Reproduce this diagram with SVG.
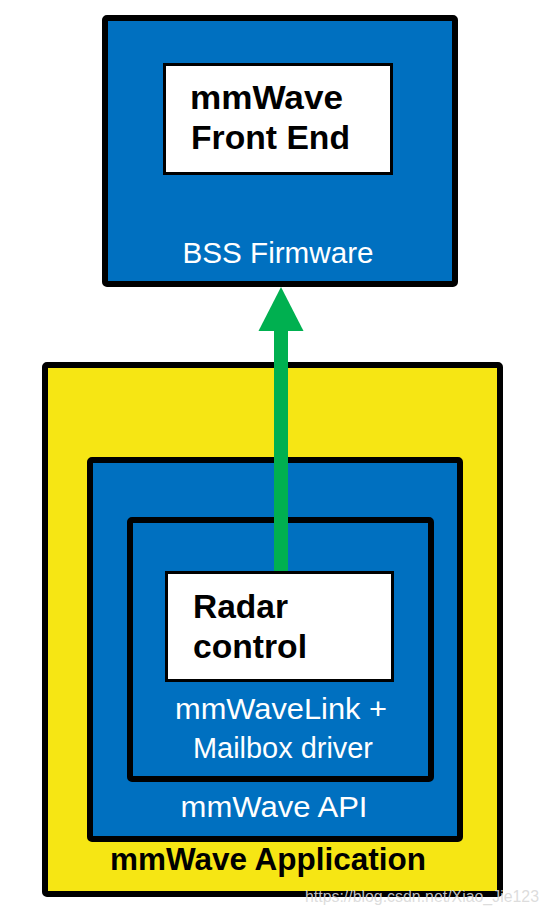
<svg xmlns="http://www.w3.org/2000/svg" width="549" height="917" viewBox="0 0 549 917">
  <defs>
    <style>
      .box { stroke: #000; stroke-width: 6; }
      .blue { fill: #0070C0; }
      .yellow { fill: #F6E614; }
      .white { fill: #FFFFFF; stroke: #000; stroke-width: 3; }
      .lbl { font-family: "Liberation Sans", Arial, sans-serif; }
      .bold { font-weight: bold; font-size: 34px; fill: #000; }
      .wt { font-size: 29.5px; fill: #FFFFFF; text-anchor: middle; }
    </style>
  </defs>
  <rect width="549" height="917" fill="#FFFFFF"/>

  <g id="bss-firmware">
    <rect class="box blue" x="105" y="18" width="350" height="266" rx="2"/>
    <text class="lbl wt" x="278" y="263" textLength="191" lengthAdjust="spacingAndGlyphs">BSS Firmware</text>
  </g>
  <g id="mmwave-front-end">
    <rect class="white" x="164.5" y="64.5" width="227" height="109"/>
    <text class="lbl bold" x="190" y="109" textLength="153" lengthAdjust="spacingAndGlyphs">mmWave</text>
    <text class="lbl bold" x="191" y="149" textLength="159" lengthAdjust="spacingAndGlyphs">Front End</text>
  </g>

  <g id="mmwave-application">
    <rect class="box yellow" x="45" y="365" width="455" height="529" rx="2"/>
    <text class="lbl" x="268" y="870" font-size="31" font-weight="bold" text-anchor="middle" fill="#000" textLength="316" lengthAdjust="spacingAndGlyphs">mmWave Application</text>
  </g>
  <g id="mmwave-api">
    <rect class="box blue" x="90" y="460" width="370" height="379" rx="2"/>
    <text class="lbl wt" x="274" y="817" textLength="187" lengthAdjust="spacingAndGlyphs">mmWave API</text>
  </g>
  <g id="mmwavelink">
    <rect class="box blue" x="130" y="520" width="301" height="259" rx="2"/>
    <text class="lbl wt" x="281" y="719" textLength="212" lengthAdjust="spacingAndGlyphs">mmWaveLink +</text>
    <text class="lbl wt" x="283" y="758" textLength="180" lengthAdjust="spacingAndGlyphs">Mailbox driver</text>
  </g>
  <g id="radar-control">
    <rect class="white" x="166.5" y="572.5" width="226" height="108"/>
    <text class="lbl bold" x="193" y="618" textLength="95" lengthAdjust="spacingAndGlyphs">Radar</text>
    <text class="lbl bold" x="193" y="658" textLength="114" lengthAdjust="spacingAndGlyphs">control</text>
  </g>

  <g id="connectors">
    <rect x="274" y="328" width="14" height="243" fill="#00B050"/>
    <polygon points="281,287 303.5,331 258.5,331" fill="#00B050"/>
  </g>

  <text class="lbl" x="305" y="902" font-size="16" fill="#D9D9D9" fill-opacity="0.9" textLength="234" lengthAdjust="spacingAndGlyphs">https://blog.csdn.net/Xiao_Jie123</text>
</svg>
